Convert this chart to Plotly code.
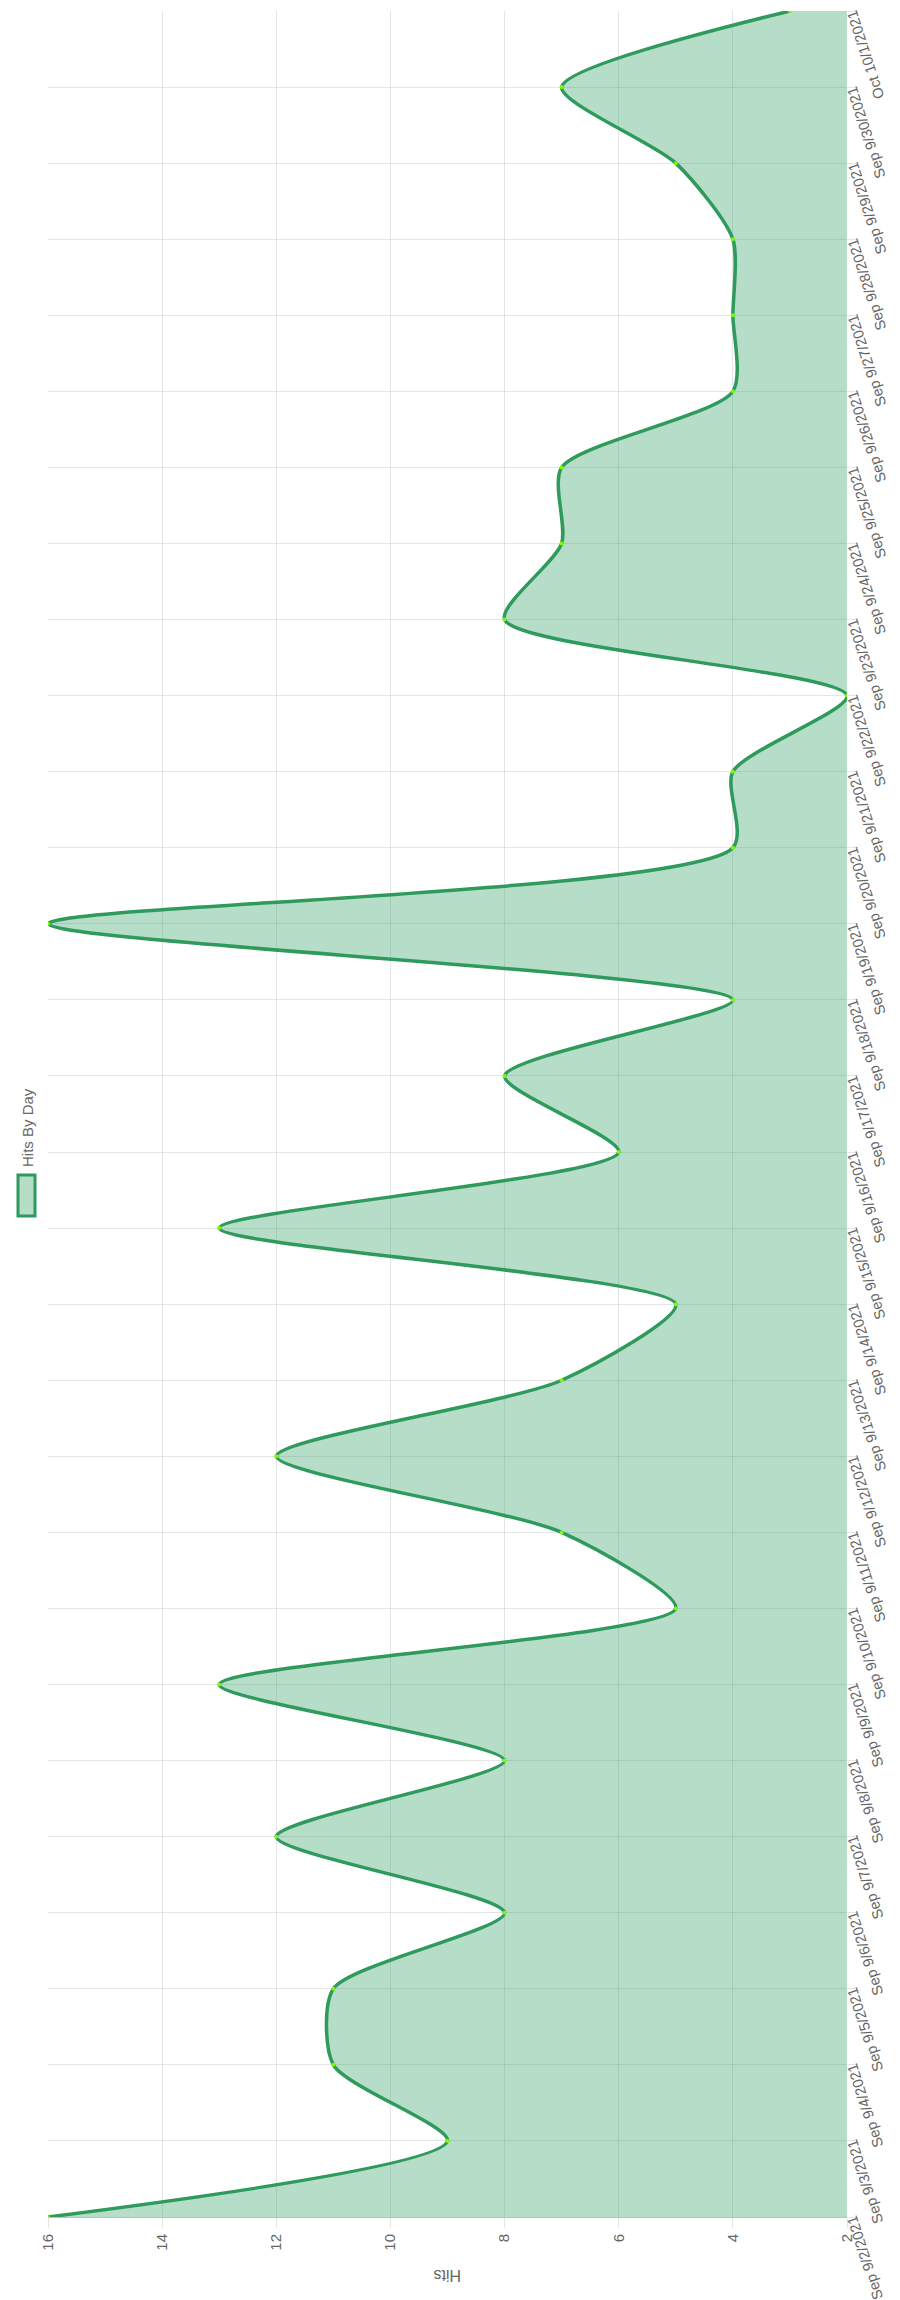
import plotly.graph_objects as go

dates = ["Sep 9/2/2021", "Sep 9/3/2021", "Sep 9/4/2021", "Sep 9/5/2021", "Sep 9/6/2021",
         "Sep 9/7/2021", "Sep 9/8/2021", "Sep 9/9/2021", "Sep 9/10/2021", "Sep 9/11/2021",
         "Sep 9/12/2021", "Sep 9/13/2021", "Sep 9/14/2021", "Sep 9/15/2021", "Sep 9/16/2021",
         "Sep 9/17/2021", "Sep 9/18/2021", "Sep 9/19/2021", "Sep 9/20/2021", "Sep 9/21/2021",
         "Sep 9/22/2021", "Sep 9/23/2021", "Sep 9/24/2021", "Sep 9/25/2021", "Sep 9/26/2021",
         "Sep 9/27/2021", "Sep 9/28/2021", "Sep 9/29/2021", "Sep 9/30/2021", "Oct 10/1/2021"]
hits = [16, 9, 11, 11, 8, 12, 8, 13, 5, 7, 12, 7, 5, 13, 6, 8, 4, 16, 4, 4,
        2, 8, 7, 7, 4, 4, 4, 5, 7, 3]
hit_ticks = [16, 14, 12, 10, 8, 6, 4, 2]

W, H = 900, 2300
L, R, T, B = 40, 839, 3, 2209

def px(xp):
    return (xp - L) / (R - L)

def py(yp):
    return (B - yp) / (B - T)

FONT = "Liberation Sans, Arial, Helvetica, sans-serif"
GREY = "#666666"
LINE = "#2e9a5c"
FILL = "rgba(52,160,100,0.36)"
FS = 15

fig = go.Figure()
fig.add_trace(go.Scatter(
    x=hits, y=dates, mode="lines+markers", name="Hits By Day",
    line=dict(color=LINE, width=3.5, shape="spline", smoothing=0.7),
    marker=dict(color="#7cfc00", size=4),
    fill="tozerox", fillcolor=FILL,
    showlegend=False, cliponaxis=True,
))

fig.update_layout(
    width=W, height=H,
    margin=dict(l=L, r=W - R, t=T, b=H - B, pad=0, autoexpand=False),
    paper_bgcolor="white", plot_bgcolor="white",
    font=dict(family=FONT, size=FS, color=GREY),
    xaxis=dict(
        range=[16, 2], tickvals=hit_ticks, ticktext=[str(v) for v in hit_ticks],
        tickangle=-90, showgrid=True, gridcolor="rgba(0,0,0,0.1)", gridwidth=1,
        zeroline=False, ticks="outside", ticklen=10, tickcolor="rgba(0,0,0,0.1)",
        showline=True, linecolor="rgba(0,0,0,0.25)", linewidth=1, automargin=False,
        tickfont=dict(size=FS, color=GREY, family=FONT),
    ),
    yaxis=dict(
        type="category", categoryorder="array", categoryarray=dates,
        range=[0, len(dates) - 1], side="right",
        showgrid=True, gridcolor="rgba(0,0,0,0.1)", gridwidth=1,
        zeroline=False, ticks="outside", ticklen=10, tickcolor="rgba(0,0,0,0.1)",
        showline=False, showticklabels=False, automargin=False,
    ),
)

# date tick labels, rotated like the reference
for d in dates:
    fig.add_annotation(text=d, xref="paper", yref="y", x=px(835), y=d,
                       showarrow=False, textangle=-108, borderpad=0, yshift=4,
                       xanchor="left", yanchor="top",
                       font=dict(size=14.7, color=GREY, family=FONT))

# axis title "Hits" (upside down, as in the reference)
fig.add_annotation(text="Hits", xref="paper", yref="paper",
                   x=px((L + R) / 2), y=py(2268), showarrow=False, textangle=180,
                   font=dict(size=16, color=GREY, family=FONT),
                   xanchor="center", yanchor="middle")

# legend drawn manually (rotated)
fig.add_shape(type="rect", xref="paper", yref="paper",
              x0=px(10), x1=px(27), y0=py(1167), y1=py(1208),
              line=dict(color=LINE, width=3), fillcolor=FILL)
fig.add_annotation(text="Hits By Day", xref="paper", yref="paper",
                   x=px(19), y=py(1120), showarrow=False, textangle=-90,
                   font=dict(size=FS, color=GREY, family=FONT),
                   xanchor="center", yanchor="middle")

fig.write_html("out.html")
